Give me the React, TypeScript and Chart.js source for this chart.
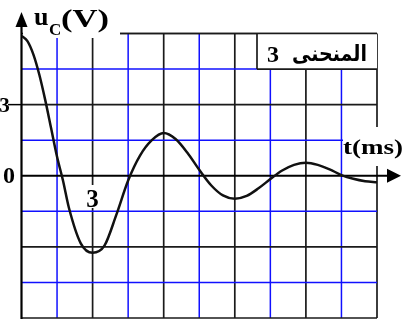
import React, { useEffect, useRef } from "react";
import { Chart, registerables } from "chart.js";

Chart.register(...registerables);

// ---- data ----
const TIME_MS = [
  0, 0.25, 0.5, 0.75, 1, 1.25, 1.5, 1.75, 2, 2.5, 3, 3.5, 4, 4.5, 5, 5.5, 6, 6.5,
  7, 7.5, 8, 8.5, 9, 9.5, 10, 10.5, 11, 11.5, 12, 12.5, 13, 13.5, 14, 14.5, 15,
];
const UC_V = [
  5.9, 5.68, 5.12, 4.27, 3.2, 2.0, 0.8, -0.2, -1.35, -2.85, -3.25, -2.95, -1.65,
  -0.2, 0.85, 1.5, 1.8, 1.55, 0.97, 0.25, -0.4, -0.83, -0.97, -0.85, -0.53,
  -0.14, 0.22, 0.46, 0.55, 0.46, 0.27, 0.03, -0.13, -0.23, -0.27,
];
const X_GRID = [0, 1.5, 3, 4.5, 6, 7.5, 9, 10.5, 12, 13.5, 15];
const Y_GRID = [-6, -4.5, -3, -1.5, 0, 1.5, 3, 4.5, 6];
const Y_LABEL_VALUES = [3, 0];
const Y_LABEL_TEXT = ["3", "0"];
const X_LABEL_VALUES = [3];
const X_LABEL_TEXT = ["3"];
const CURVE_NAME = "المنحنى 3";
const X_TITLE = "t(ms)";

const BLUE = "#1010ff";
const BLACK = "#1a1a1a";
const SERIF = '"Liberation Serif", "Times New Roman", "DejaVu Serif", serif';
const ARABIC = '"Liberation Serif", "DejaVu Sans", "Noto Sans", sans-serif';

function line(ctx: CanvasRenderingContext2D, x1: number, y1: number, x2: number, y2: number) {
  ctx.beginPath();
  ctx.moveTo(x1, y1);
  ctx.lineTo(x2, y2);
  ctx.stroke();
}

function fitText(
  ctx: CanvasRenderingContext2D,
  text: string,
  x: number,
  y: number,
  font: string,
  width: number
) {
  ctx.save();
  ctx.font = font;
  ctx.textAlign = "left";
  ctx.textBaseline = "alphabetic";
  const w = ctx.measureText(text).width;
  ctx.translate(x, y);
  ctx.scale(width / w, 1);
  ctx.fillText(text, 0, 0);
  ctx.restore();
}

function centerText(ctx: CanvasRenderingContext2D, text: string, x: number, y: number, font: string) {
  ctx.save();
  ctx.font = font;
  ctx.textAlign = "center";
  ctx.textBaseline = "alphabetic";
  ctx.fillText(text, x, y);
  ctx.restore();
}

const decor = {
  id: "decor",
  beforeDatasetsDraw(chart: any) {
    const ctx: CanvasRenderingContext2D = chart.ctx;
    const xs = chart.scales.x;
    const ys = chart.scales.y;
    const X = (v: number) => xs.getPixelForValue(v);
    const Y = (v: number) => ys.getPixelForValue(v);
    const left = X(X_GRID[0]);
    const right = X(X_GRID[X_GRID.length - 1]);
    const top = Y(Y_GRID[Y_GRID.length - 1]);
    const bottom = Y(Y_GRID[0]);
    const zero = Y(0);

    ctx.save();
    ctx.lineCap = "butt";
    // vertical grid
    X_GRID.forEach((v, i) => {
      if (v === 0) return;
      ctx.strokeStyle = i % 2 ? BLUE : BLACK;
      ctx.lineWidth = i % 2 ? 1.5 : 1.7;
      line(ctx, X(v), top, X(v), bottom);
    });
    // horizontal grid
    Y_GRID.forEach((v, i) => {
      if (v === 0) return;
      ctx.strokeStyle = i % 2 ? BLUE : BLACK;
      ctx.lineWidth = i % 2 ? 1.5 : 1.7;
      line(ctx, left, Y(v), right, Y(v));
    });

    // white boxes behind the labels
    ctx.fillStyle = "#fff";
    ctx.fillRect(left + 1.5, 0, 120 - left - 1.5, 38);
    ctx.fillRect(343, 127, 404 - 343, 39);
    X_LABEL_VALUES.forEach((v) => ctx.fillRect(X(v) - 7, 185, 14, 23));

    // legend box
    const bx1 = 257;
    const by2 = Y(4.5);
    ctx.fillRect(bx1, top, right - bx1, by2 - top);
    ctx.strokeStyle = BLACK;
    ctx.lineWidth = 1.7;
    line(ctx, bx1, top, bx1, by2);
    line(ctx, bx1, by2, right, by2);
    line(ctx, 120, top, right, top);

    // axes
    ctx.strokeStyle = "#000";
    ctx.fillStyle = "#000";
    ctx.lineWidth = 2.2;
    line(ctx, left, bottom + 1, left, 20);
    line(ctx, left, zero, 392, zero);
    ctx.beginPath();
    ctx.moveTo(left, 12);
    ctx.lineTo(left - 6, 27);
    ctx.lineTo(left + 6, 27);
    ctx.closePath();
    ctx.fill();
    ctx.beginPath();
    ctx.moveTo(401, zero);
    ctx.lineTo(387, zero - 7);
    ctx.lineTo(387, zero + 7);
    ctx.closePath();
    ctx.fill();

    // tick at y label 3
    ctx.lineWidth = 1.5;
    line(ctx, 8, Y(3), left, Y(3));
    ctx.restore();
  },
  afterDatasetsDraw(chart: any) {
    const ctx: CanvasRenderingContext2D = chart.ctx;
    const xs = chart.scales.x;
    const ys = chart.scales.y;
    const X = (v: number) => xs.getPixelForValue(v);
    const Y = (v: number) => ys.getPixelForValue(v);
    ctx.save();
    ctx.fillStyle = "#000";
    // y title u_C(V)
    ctx.font = `bold 26px ${SERIF}`;
    ctx.textAlign = "left";
    ctx.fillText("u", 34, 25);
    ctx.font = `bold 17px ${SERIF}`;
    ctx.fillText("C", 49, 35);
    fitText(ctx, "(V)", 61, 27, `bold 26px ${SERIF}`, 48);
    // x title
    fitText(ctx, X_TITLE, 343, 154, `bold 22px ${SERIF}`, 60);
    // legend text (right-to-left: first word on the right)
    const words = CURVE_NAME.split(" ");
    const word = words[0];
    const num = words[1];
    ctx.font = `bold 24px ${SERIF}`;
    ctx.textAlign = "left";
    ctx.fillText(num, 267, 62);
    fitText(ctx, word, 292, 61, `bold 22px ${ARABIC}`, 75);
    // y labels
    Y_LABEL_VALUES.forEach((v, i) => {
      const size = v === 0 ? 24 : 21;
      centerText(ctx, Y_LABEL_TEXT[i], v === 0 ? 9 : 4.5, Y(v) + (v === 0 ? 7.5 : 7), `bold ${size}px ${SERIF}`);
    });
    // x labels
    X_LABEL_VALUES.forEach((v, i) => {
      centerText(ctx, X_LABEL_TEXT[i], X(v), 207, `bold 25px ${SERIF}`);
    });
    ctx.restore();
  },
};

export default function App() {
  const ref = useRef<HTMLCanvasElement>(null);
  useEffect(() => {
    document.body.style.margin = "0";
    const chart = new Chart(ref.current as HTMLCanvasElement, {
      type: "line",
      data: {
        datasets: [
          {
            data: TIME_MS.map((t, i) => ({ x: t, y: UC_V[i] })),
            borderColor: "#111",
            borderWidth: 2.5,
            pointRadius: 0,
            cubicInterpolationMode: "monotone",
            fill: false,
          },
        ],
      },
      options: {
        responsive: false,
        animation: false,
        events: [],
        layout: { padding: { left: 21.5, top: 33.5, right: 27, bottom: 5 } },
        plugins: { legend: { display: false }, tooltip: { enabled: false } },
        scales: {
          x: { type: "linear", min: 0, max: 15, display: false },
          y: { type: "linear", min: -6, max: 6, display: false },
        },
      },
      plugins: [decor],
    } as any);
    return () => chart.destroy();
  }, []);
  return <canvas ref={ref} width={404} height={323} style={{ display: "block" }} />;
}
